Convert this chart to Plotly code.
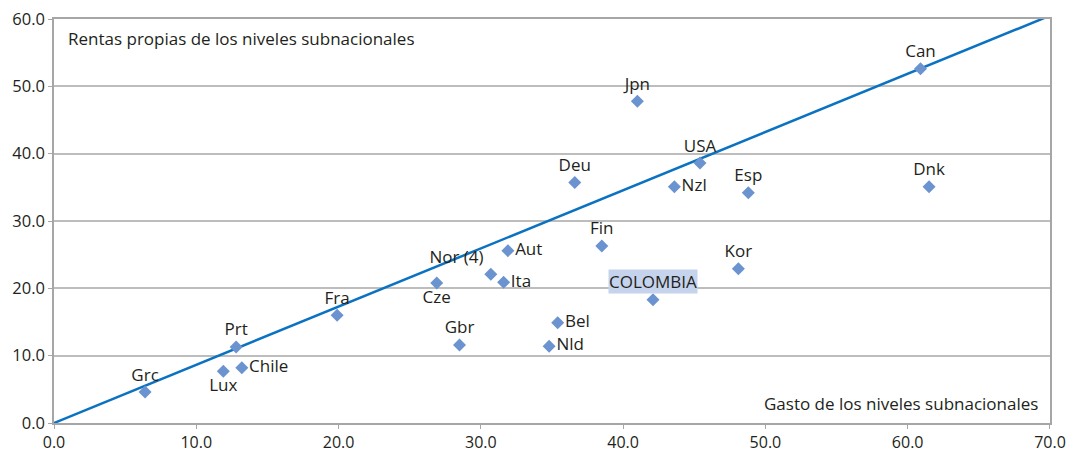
"""Gasto vs rentas propias de los niveles subnacionales — dispersión con recta 45°."""

import plotly.graph_objects as go

# datos (% del total)
paises = [
    "Grc", "Lux", "Chile", "Prt", "Fra", "Cze", "Gbr", "Nor (4)", "Ita", "Aut",
    "Deu", "Fin", "Bel", "Nld", "COLOMBIA", "Jpn", "Nzl", "USA", "Esp", "Kor",
    "Can", "Dnk",
]
gasto = [
    6.4, 11.9, 13.2, 12.8, 19.9, 26.9, 28.5, 30.7, 31.6, 31.9,
    36.6, 38.5, 35.4, 34.8, 42.1, 41.0, 43.6, 45.4, 48.8, 48.1,
    60.9, 61.5,
]
rentas = [
    4.6, 7.7, 8.2, 11.3, 16.0, 20.8, 11.6, 22.1, 20.9, 25.6,
    35.7, 26.3, 14.9, 11.4, 18.3, 47.8, 35.1, 38.6, 34.2, 22.9,
    52.6, 35.1,
]
posicion = [
    "top center", "bottom center", "middle right", "top center", "top center",
    "bottom center", "top center", "top left", "middle right", "middle right",
    "top center", "top center", "middle right", "middle right", "top center",
    "top center", "middle right", "top center", "top center", "top center",
    "top center", "top center",
]
recta_x = [0.0, 70.0]
recta_y = [0.0, 60.5]

FONT = "Open Sans, DejaVu Sans, sans-serif"
TXT = "#231F20"
GRID = "#BDBDBD"
FS = 17

# COLOMBIA va como anotación con fondo
etiquetas = ["" if p == "COLOMBIA" else p for p in paises]

fig = go.Figure()
fig.add_trace(go.Scatter(
    x=recta_x, y=recta_y, mode="lines",
    line={"color": "#0B72C1", "width": 2.5},
    hoverinfo="skip", showlegend=False,
))
fig.add_trace(go.Scatter(
    x=gasto, y=rentas, mode="markers+text",
    text=etiquetas, textposition=posicion,
    textfont={"family": FONT, "size": FS, "color": TXT},
    marker={"symbol": "diamond", "size": 10, "color": "#6A93D0"},
    cliponaxis=False, showlegend=False,
    hovertemplate="%{customdata}<br>Gasto: %{x:.1f}<br>Rentas: %{y:.1f}<extra></extra>",
    customdata=paises,
))

i = paises.index("COLOMBIA")
fig.add_annotation(
    x=gasto[i], y=rentas[i], text="COLOMBIA", showarrow=False,
    yshift=18, bgcolor="#C6D3EC", borderpad=0,
    font={"family": FONT, "size": FS, "color": TXT},
)
fig.add_annotation(
    x=0.012, y=0.985, xref="paper", yref="paper", xanchor="left", yanchor="top",
    text="Rentas propias de los niveles subnacionales", showarrow=False,
    font={"family": FONT, "size": FS, "color": TXT},
)
fig.add_annotation(
    x=0.99, y=0.015, xref="paper", yref="paper", xanchor="right", yanchor="bottom",
    text="Gasto de los niveles subnacionales", showarrow=False,
    font={"family": FONT, "size": FS, "color": TXT},
)

fig.update_layout(
    width=1069, height=453,
    margin={"l": 54, "r": 19, "t": 19, "b": 30},
    plot_bgcolor="white", paper_bgcolor="white",
    font={"family": FONT, "size": FS, "color": TXT},
)
fig.update_xaxes(
    range=[0, 70.001], dtick=10, tickformat=".1f", showgrid=False, zeroline=False,
    showline=True, linecolor="#A6A6A6", linewidth=1.5, mirror=True,
    automargin=False, ticks="outside", ticklen=4, tickcolor="#A6A6A6",
    tickfont={"size": 16}, ticklabeloverflow="allow",
)
fig.update_yaxes(
    range=[0, 60.001], dtick=10, tickformat=".1f", showgrid=True, gridcolor=GRID,
    gridwidth=1.5, zeroline=False, showline=True, linecolor="#A6A6A6",
    linewidth=1.5, mirror=True, ticks="outside", ticklen=4, tickcolor="#A6A6A6",
    automargin=False, tickfont={"size": 16.5}, ticklabeloverflow="allow",
)

# sin el margen por defecto del body, la figura ocupa la ventana exacta
fig.write_html(
    "out.html",
    config={"displayModeBar": False},
    post_script="document.body.style.margin='0';",
)
